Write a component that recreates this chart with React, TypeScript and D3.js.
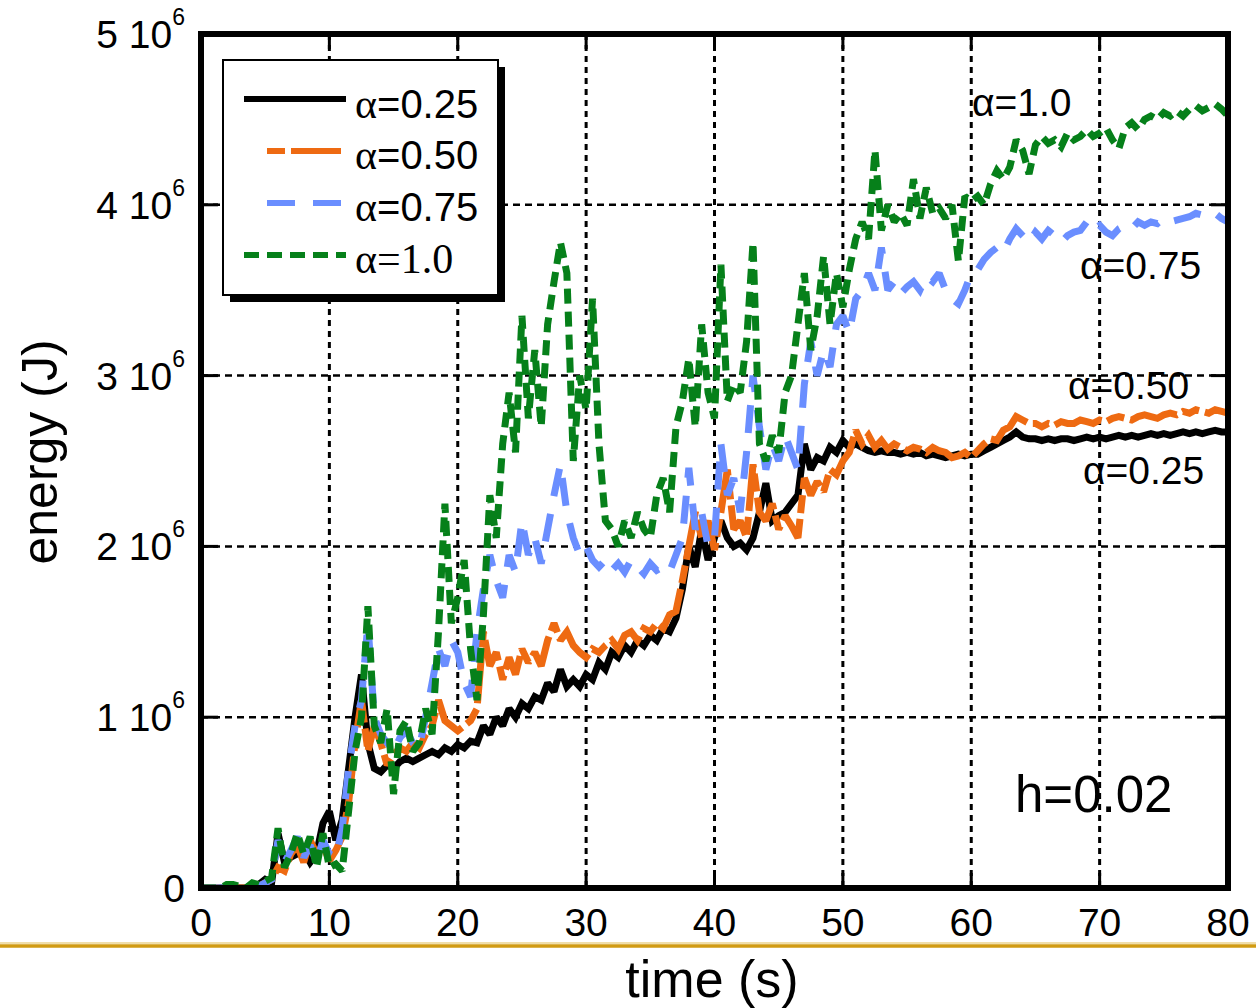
import React from 'react';
import * as d3 from 'd3';

// time sampling: every 0.5 s from 0 to 80 s (161 samples)
const timeStart = 0;
const timeEnd = 80;
const timeStep = 0.5;

// energy values in units of 10^6 J
const alpha025 = [
  0, 0, 0, 0, 0, 0, 0, 0, 0.01, 0.02,
  0.05, 0.03, 0.32, 0.15, 0.18, 0.2, 0.22, 0.15, 0.2, 0.38,
  0.45, 0.28, 0.4, 0.7, 1.0, 1.25, 0.85, 0.7, 0.68, 0.72,
  0.7, 0.74, 0.76, 0.74, 0.76, 0.78, 0.8, 0.78, 0.82, 0.8,
  0.84, 0.82, 0.86, 0.85, 0.95, 0.9, 1.0, 0.95, 1.05, 1.0,
  1.08, 1.05, 1.12, 1.1, 1.2, 1.15, 1.28, 1.18, 1.22, 1.18,
  1.25, 1.22, 1.32, 1.28, 1.38, 1.35, 1.42, 1.38, 1.45, 1.42,
  1.48, 1.45, 1.52, 1.5, 1.58, 1.75, 2.0, 1.88, 2.1, 1.92,
  2.05, 2.15, 2.05, 2.0, 2.02, 1.98, 2.05, 2.2, 2.37, 2.15,
  2.18, 2.2, 2.25, 2.3, 2.6, 2.45, 2.52, 2.5, 2.58, 2.55,
  2.62, 2.58, 2.6, 2.58, 2.56, 2.55, 2.56, 2.55, 2.55, 2.54,
  2.55, 2.54, 2.55, 2.53, 2.54, 2.53, 2.52, 2.53, 2.54, 2.53,
  2.54, 2.54, 2.56, 2.58, 2.6, 2.62, 2.64, 2.67, 2.64, 2.63,
  2.63, 2.62, 2.63, 2.62, 2.63, 2.63, 2.62, 2.63, 2.64, 2.63,
  2.64, 2.63, 2.64, 2.65, 2.64, 2.65, 2.64, 2.65, 2.66, 2.65,
  2.66, 2.65, 2.66, 2.67, 2.66, 2.67, 2.66, 2.67, 2.68, 2.67,
  2.67,
];

const alpha050 = [
  0, 0, 0, 0, 0, 0, 0, 0, 0, 0.01,
  0.03, 0.05, 0.12, 0.1, 0.2, 0.25, 0.15, 0.28, 0.2, 0.25,
  0.16, 0.22, 0.3, 0.5, 0.85, 1.1, 0.8, 0.95, 0.85, 0.72,
  0.78, 0.82, 0.8, 0.85, 0.82, 0.9, 0.95, 1.1, 0.98, 0.95,
  0.92, 0.95, 0.98, 1.05, 1.5, 1.3, 1.38, 1.22, 1.35, 1.25,
  1.4, 1.32, 1.38, 1.3, 1.45, 1.55, 1.45, 1.5, 1.42, 1.38,
  1.35, 1.4, 1.38, 1.42, 1.45, 1.4, 1.48, 1.5, 1.45, 1.52,
  1.5, 1.55, 1.52, 1.6, 1.62, 1.8, 2.0, 2.2, 2.05, 2.15,
  1.98, 2.2, 2.45, 2.1, 2.15, 2.05, 2.48, 2.2, 2.15, 2.25,
  2.1, 2.18, 2.12, 2.05, 2.4, 2.3, 2.38, 2.32, 2.45, 2.42,
  2.5, 2.55, 2.68, 2.6, 2.65, 2.58, 2.62, 2.57, 2.6, 2.58,
  2.56, 2.58, 2.57, 2.55, 2.58, 2.56, 2.55, 2.52, 2.53, 2.55,
  2.52, 2.56, 2.6, 2.63, 2.62, 2.68, 2.7, 2.76, 2.74, 2.72,
  2.72, 2.7, 2.72, 2.71, 2.73, 2.72, 2.72, 2.74, 2.73, 2.72,
  2.74, 2.73, 2.75, 2.76, 2.75, 2.74, 2.76, 2.77, 2.76, 2.75,
  2.77, 2.78, 2.77, 2.79, 2.78, 2.8, 2.79, 2.78, 2.8, 2.79,
  2.78,
];

const alpha075 = [
  0, 0, 0, 0, 0, 0, 0, 0, 0, 0.01,
  0.03, 0.05, 0.28, 0.15, 0.22, 0.3, 0.18, 0.25, 0.15, 0.28,
  0.2, 0.18, 0.35, 0.7, 0.95, 1.1, 1.55, 1.0, 0.9, 0.85,
  0.8, 0.88, 0.92, 0.85, 0.82, 1.0, 1.2, 1.4, 1.3, 1.45,
  1.38, 1.2, 1.12, 1.5, 1.75, 1.95, 1.8, 1.7, 1.95, 1.85,
  2.15, 1.95, 2.05, 1.9, 2.1, 2.3, 2.48, 2.2, 2.05, 1.95,
  2.0, 1.92, 1.88, 1.92, 1.86, 1.9, 1.85, 1.92, 1.88, 1.84,
  1.9, 1.86, 1.88, 1.85, 1.95, 2.05, 2.46, 2.1, 2.2, 2.0,
  2.05, 2.6, 2.3, 2.4, 2.2, 2.55, 3.0, 2.7, 2.45, 2.6,
  2.5, 2.65, 2.55, 2.45, 2.95, 3.2, 3.0, 3.15, 3.05, 3.3,
  3.35, 3.25, 3.45, 3.5, 3.6, 3.5, 3.75, 3.5, 3.55, 3.48,
  3.52, 3.55, 3.5, 3.58, 3.55, 3.6, 3.5, 3.45, 3.42, 3.5,
  3.6, 3.62, 3.68, 3.72, 3.75, 3.72, 3.8, 3.86, 3.82, 3.78,
  3.84, 3.8, 3.85, 3.82, 3.78, 3.82, 3.84, 3.85, 3.9, 3.85,
  3.88, 3.84, 3.82, 3.86, 3.88, 3.86, 3.9, 3.88, 3.9, 3.89,
  3.92, 3.9, 3.91, 3.92, 3.93, 3.95, 3.94, 3.93, 3.95, 3.92,
  3.9,
];

const alpha100 = [
  0, 0, 0, 0, 0.02, 0.02, 0.01, 0, 0.03, 0.02,
  0.04, 0.06, 0.35, 0.12, 0.2, 0.32, 0.2, 0.3, 0.12, 0.32,
  0.12, 0.14, 0.1, 0.45, 0.8, 1.0, 1.65, 0.95, 0.85, 1.05,
  0.55, 0.92, 0.98, 0.8, 0.85, 1.05, 0.9, 1.5, 2.25, 1.55,
  1.7, 1.92, 1.4, 1.1, 1.6, 2.3, 2.05, 2.6, 2.9, 2.55,
  3.35, 2.75, 3.15, 2.7, 3.3, 3.55, 3.78, 3.6, 2.5, 3.0,
  2.8, 3.45, 2.6, 2.15, 2.1, 2.0, 2.15, 2.05, 2.2, 2.1,
  2.05, 2.3, 2.4, 2.2, 2.7, 2.85, 3.1, 2.7, 3.3, 2.9,
  2.75, 3.65, 2.85, 2.95, 2.9, 3.2, 3.78, 2.6, 2.5, 2.65,
  2.55, 2.9, 3.0, 3.3, 3.6, 3.15, 3.35, 3.7, 3.3, 3.6,
  3.4, 3.62, 3.8, 3.9, 3.8, 4.32, 3.85, 4.0, 3.9, 3.95,
  3.88, 4.15, 3.92, 4.1, 3.95, 3.98, 3.92, 4.0, 3.67, 4.05,
  4.02, 4.05, 4.0, 4.12, 4.2, 4.15, 4.22, 4.38, 4.32, 4.18,
  4.35, 4.4, 4.36, 4.38, 4.34, 4.42, 4.38, 4.4, 4.44, 4.4,
  4.42, 4.45, 4.38, 4.33, 4.45, 4.48, 4.44, 4.5, 4.52, 4.5,
  4.54, 4.52, 4.55, 4.52, 4.56, 4.58, 4.55, 4.57, 4.59, 4.56,
  4.52,
];

const xTicks = [0, 10, 20, 30, 40, 50, 60, 70, 80];
const yTicks = [0, 1, 2, 3, 4, 5];
const yTickLabels = ['0', '1 10', '2 10', '3 10', '4 10', '5 10'];

const seriesNames = ['α=0.25', 'α=0.50', 'α=0.75', 'α=1.0'];
const seriesColors = ['#000000', '#EE6A12', '#6A8EFF', '#06801A'];
const seriesDash = ['none', '18,6,50,6', '28,18', '15,8'];

const W = 1256;
const H = 1008;
const plot = { left: 201, right: 1228, top: 34, bottom: 888 };

export default function App() {
  const times = d3.range(timeStart, timeEnd + timeStep / 2, timeStep);
  const x = d3.scaleLinear().domain([0, 80]).range([plot.left, plot.right]);
  const y = d3.scaleLinear().domain([0, 5]).range([plot.bottom, plot.top]);
  const line = d3
    .line<number>()
    .x((_, i) => x(times[i]))
    .y((d) => y(d));

  const allSeries = [alpha025, alpha050, alpha075, alpha100];
  const sans = '"Liberation Sans", Arial, Helvetica, sans-serif';
  const serif = '"Liberation Serif", "Times New Roman", serif';

  // legend geometry
  const lg = { x: 223, y: 60, w: 275, h: 235 };
  const legendRows = [99, 151, 203, 255];
  const legendTextY = [118, 169, 221, 273];
  const legendLineStart = [244, 267, 267, 244];
  const legendLineEnd = [346, 341, 341, 346];

  return (
    <svg
      width={W}
      height={H}
      style={{ position: 'absolute', left: 0, top: 0, background: '#fff' }}
      xmlns="http://www.w3.org/2000/svg"
    >
      <rect x={0} y={0} width={W} height={H} fill="#fff" />
      <defs>
        <clipPath id="plotClip">
          <rect x={plot.left} y={plot.top} width={plot.right - plot.left} height={plot.bottom - plot.top} />
        </clipPath>
      </defs>

      {/* grid */}
      {xTicks.slice(1, -1).map((t) => (
        <line key={'gx' + t} x1={x(t)} x2={x(t)} y1={plot.top} y2={plot.bottom}
          stroke="#000" strokeWidth={3} strokeDasharray="6,5" />
      ))}
      {yTicks.slice(1, -1).map((v) => (
        <line key={'gy' + v} x1={plot.left} x2={plot.right} y1={y(v)} y2={y(v)}
          stroke="#000" strokeWidth={2.5} strokeDasharray="7,5" />
      ))}
      {/* inner ticks */}
      {xTicks.slice(1, -1).map((t) => (
        <g key={'tx' + t}>
          <line x1={x(t)} x2={x(t)} y1={plot.bottom} y2={plot.bottom - 15} stroke="#000" strokeWidth={3} />
          <line x1={x(t)} x2={x(t)} y1={plot.top} y2={plot.top + 15} stroke="#000" strokeWidth={3} />
        </g>
      ))}
      {yTicks.slice(1, -1).map((v) => (
        <g key={'ty' + v}>
          <line x1={plot.left} x2={plot.left + 17} y1={y(v)} y2={y(v)} stroke="#000" strokeWidth={3} />
          <line x1={plot.right} x2={plot.right - 17} y1={y(v)} y2={y(v)} stroke="#000" strokeWidth={3} />
        </g>
      ))}

      {/* data */}
      <g clipPath="url(#plotClip)">
        {allSeries.map((s, k) => (
          <path key={'s' + k} d={line(s) || ''} fill="none" stroke={seriesColors[k]}
            strokeWidth={7} strokeDasharray={seriesDash[k]} strokeLinejoin="miter" strokeMiterlimit={2} strokeLinecap="butt" />
        ))}
      </g>

      {/* frame */}
      <rect x={plot.left} y={plot.top} width={plot.right - plot.left} height={plot.bottom - plot.top}
        fill="none" stroke="#000" strokeWidth={6} />

      {/* y tick labels */}
      {yTicks.map((v, i) => (
        <text key={'yl' + v} x={185} y={y(v) + 14} textAnchor="end" fontFamily={sans} fontSize={39} fill="#000">
          {yTickLabels[i]}
          {v !== 0 ? <tspan dy={-23} fontSize={23}>6</tspan> : null}
        </text>
      ))}
      {/* x tick labels */}
      {xTicks.map((t) => (
        <text key={'xl' + t} x={x(t)} y={936} textAnchor="middle" fontFamily={sans} fontSize={39} fill="#000">
          {t}
        </text>
      ))}

      {/* axis titles */}
      <text x={712} y={997} textAnchor="middle" fontFamily={sans} fontSize={52} fill="#000">time (s)</text>
      <text transform="translate(57,452) rotate(-90)" textAnchor="middle" fontFamily={sans} fontSize={50} fill="#000">
        energy (J)
      </text>

      {/* gold rule */}
      <line x1={0} x2={W} y1={943} y2={943} stroke="#EBD38C" strokeWidth={1.5} />
      <line x1={0} x2={W} y1={946} y2={946} stroke="#D19B12" strokeWidth={3.5} />

      {/* in-plot annotations */}
      <text x={972} y={116} fontFamily={sans} fontSize={39} fill="#000">α=1.0</text>
      <text x={1080} y={279} fontFamily={sans} fontSize={39} fill="#000">α=0.75</text>
      <text x={1068} y={399} fontFamily={sans} fontSize={39} fill="#000">α=0.50</text>
      <text x={1083} y={484} fontFamily={sans} fontSize={39} fill="#000">α=0.25</text>
      <text x={1015} y={812} fontFamily={sans} fontSize={51} fill="#000">h=0.02</text>

      {/* legend */}
      <rect x={lg.x + 7} y={lg.y + 7} width={lg.w} height={lg.h} fill="#000" />
      <rect x={lg.x} y={lg.y} width={lg.w} height={lg.h} fill="#fff" stroke="#000" strokeWidth={2} />
      {seriesNames.map((n, k) => (
        <g key={'lg' + k}>
          <line x1={legendLineStart[k]} x2={legendLineEnd[k]} y1={legendRows[k]} y2={legendRows[k]}
            stroke={seriesColors[k]} strokeWidth={6} strokeDasharray={seriesDash[k]} />
          {k < 3 ? (
            <text x={355} y={legendTextY[k]} fontSize={40} fill="#000">
              <tspan fontFamily={serif} fontSize={42}>α</tspan>
              <tspan fontFamily={sans}>{n.slice(1)}</tspan>
            </text>
          ) : (
            <text x={355} y={legendTextY[k]} fontFamily={serif} fontSize={42} fill="#000">{n}</text>
          )}
        </g>
      ))}
    </svg>
  );
}
